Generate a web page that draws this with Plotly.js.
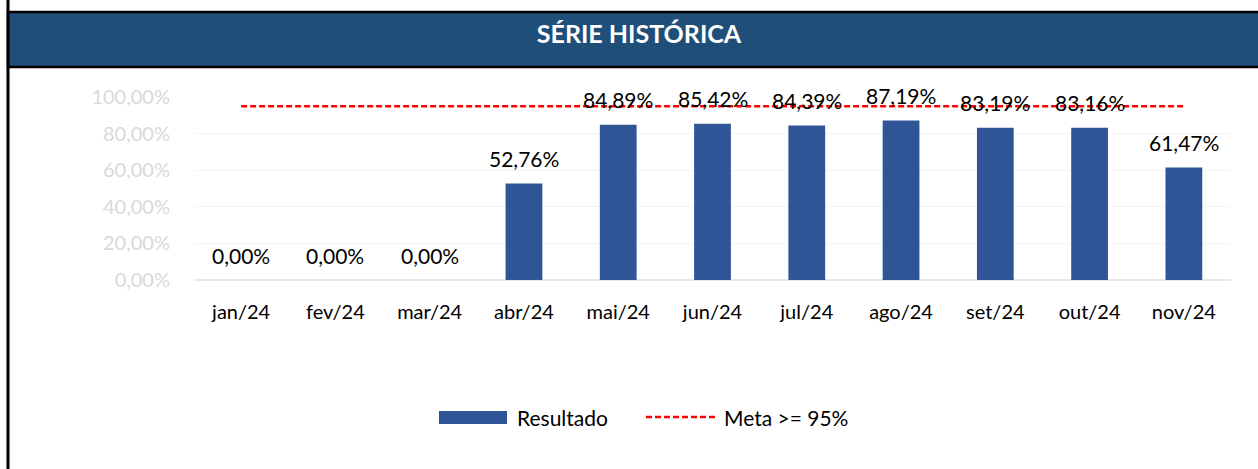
<!DOCTYPE html>
<html>
<head>
<meta charset="utf-8">
<script src="https://cdn.plot.ly/plotly-3.0.1.min.js"></script>
<style>html,body{margin:0;padding:0;background:#fff;}#chart{width:1258px;height:469px;}</style>
</head>
<body>
<div id="chart"></div>
<script>
var categories = ["jan/24","fev/24","mar/24","abr/24","mai/24","jun/24","jul/24","ago/24","set/24","out/24","nov/24"];
var resultado = [0, 0, 0, 52.76, 84.89, 85.42, 84.39, 87.19, 83.19, 83.16, 61.47];
var meta = [95, 95, 95, 95, 95, 95, 95, 95, 95, 95, 95];
var yTicks = [0, 20, 40, 60, 80, 100];
var yTickLabels = ["0,00%", "20,00%", "40,00%", "60,00%", "80,00%", "100,00%"];
var chartTitle = "SÉRIE HISTÓRICA";
var legendNames = ["Resultado", "Meta >= 95%"];

var W = 1258, H = 469;
var L = 194, R = 27, T = 97, B = 189;
var pw = W - L - R, ph = H - T - B;
function px(x){ return (x - L) / pw; }
function py(y){ return (H - B - y) / ph; }
function fmt(v){ return v.toFixed(2).replace('.', ',') + '%'; }

var FONT = 'Lato, "Noto Sans", sans-serif';

var traces = [
  {type:'bar', x:categories, y:resultado, name:legendNames[0],
   marker:{color:'#2F5597'}, hoverinfo:'skip'},
  {type:'scatter', mode:'lines', x:categories, y:meta, name:legendNames[1],
   line:{color:'#FF0000', width:2.5, dash:'6px,3px'}, hoverinfo:'skip'}
];

var annotations = categories.map(function(c, i){
  return {x:c, y:resultado[i], xref:'x', yref:'y', text:fmt(resultado[i]),
    showarrow:false, yanchor:'middle', yshift:25,
    font:{family:FONT, size:21, color:'#000'}};
});
annotations.push({xref:'paper', yref:'paper', x:px(515), y:py(417), xanchor:'left', yanchor:'middle',
  text:legendNames[0], showarrow:false, font:{family:FONT, size:21, color:'#000'}});
annotations.push({xref:'paper', yref:'paper', x:px(722), y:py(417), xanchor:'left', yanchor:'middle',
  text:legendNames[1], showarrow:false, font:{family:FONT, size:21, color:'#000'}});

var shapes = [
  {type:'rect', xref:'paper', yref:'paper', x0:px(8), x1:px(1262), y0:py(67), y1:py(12),
   fillcolor:'#1F4E79', line:{color:'#000', width:2.5}, layer:'above'},
  {type:'line', xref:'paper', yref:'paper', x0:px(8), x1:px(8), y0:py(0), y1:py(469),
   line:{color:'#000', width:3}},
  {type:'rect', xref:'paper', yref:'paper', x0:px(439), x1:px(507), y0:py(424), y1:py(411),
   fillcolor:'#2F5597', line:{width:0}},
  {type:'line', xref:'paper', yref:'paper', x0:px(646), x1:px(715), y0:py(417), y1:py(417),
   line:{color:'#FF0000', width:2.5, dash:'6px,3px'}}
];

var layout = {
  width:W, height:H,
  margin:{l:L, r:R, t:T, b:B, pad:0},
  paper_bgcolor:'#fff', plot_bgcolor:'#fff',
  separators:',.',
  showlegend:false,
  bargap:0.61,
  title:{text:'<b>' + chartTitle + '</b>', xref:'container', yref:'container',
    x:639/W, y:1 - 34/H, xanchor:'center', yanchor:'middle',
    font:{family:FONT, size:25, color:'#fff'}},
  xaxis:{type:'category', showgrid:false, zeroline:false, showline:false,
    ticks:'', ticklabelstandoff:18, fixedrange:true,
    tickfont:{family:FONT, size:20, color:'#000'}},
  yaxis:{range:[0,100], tickmode:'array', tickvals:yTicks, ticktext:yTickLabels,
    showgrid:true, gridcolor:'#F4F4F4', gridwidth:1,
    zeroline:true, zerolinecolor:'#E8E8E8', zerolinewidth:1.5, showline:false,
    ticks:'', ticklabelstandoff:23, fixedrange:true,
    tickfont:{family:FONT, size:20, color:'#D9D9D9'}},
  annotations:annotations,
  shapes:shapes
};

Plotly.newPlot('chart', traces, layout, {displayModeBar:false, staticPlot:true});
</script>
</body>
</html>
